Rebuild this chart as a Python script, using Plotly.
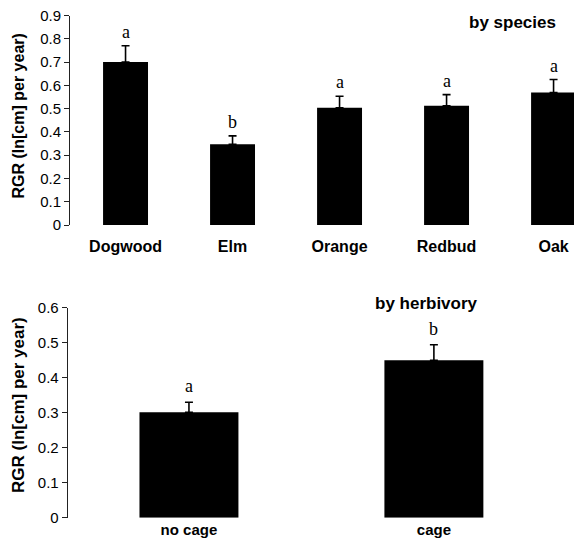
import plotly.graph_objects as go

species = ["Dogwood", "Elm", "Orange", "Redbud", "Oak"]
species_rgr = [0.70, 0.347, 0.504, 0.512, 0.569]
species_se = [0.070, 0.036, 0.049, 0.048, 0.056]
species_letters = ["a", "b", "a", "a", "a"]

herbivory = ["no cage", "cage"]
herb_rgr = [0.301, 0.450]
herb_se = [0.029, 0.044]
herb_letters = ["a", "b"]

top_ticks = [0, 0.1, 0.2, 0.3, 0.4, 0.5, 0.6, 0.7, 0.8, 0.9]
bottom_ticks = [0, 0.1, 0.2, 0.3, 0.4, 0.5, 0.6]

SANS = "Liberation Sans, Arial, sans-serif"
SERIF = "Liberation Serif, Times New Roman, serif"
W, H = 574, 539

fig = go.Figure()

err_style = dict(type="data", symmetric=False, color="black", thickness=1.6, width=4)

fig.add_trace(go.Bar(
    x=species, y=species_rgr, width=0.42, marker=dict(color="black", line=dict(width=0)),
    error_y=dict(array=species_se, arrayminus=[0] * len(species_se), **err_style),
    xaxis="x", yaxis="y", showlegend=False, hoverinfo="skip"))

fig.add_trace(go.Bar(
    x=herbivory, y=herb_rgr, width=0.404, marker=dict(color="black", line=dict(width=0)),
    error_y=dict(array=herb_se, arrayminus=[0] * len(herb_se), **err_style),
    xaxis="x2", yaxis="y2", showlegend=False, hoverinfo="skip"))

ann = []
for c, v, e, l in zip(species, species_rgr, species_se, species_letters):
    ann.append(dict(x=c, y=v + e, xref="x", yref="y", text=l, showarrow=False,
                    yanchor="middle", yshift=14,
                    font=dict(family=SERIF, size=18, color="black")))
for c, v, e, l in zip(herbivory, herb_rgr, herb_se, herb_letters):
    ann.append(dict(x=c, y=v + e, xref="x2", yref="y2", text=l, showarrow=False,
                    yanchor="middle", yshift=16,
                    font=dict(family=SERIF, size=18, color="black")))

ann.append(dict(x=512.5 / W, y=1 - 22 / H, xref="paper", yref="paper", text="<b>by species</b>",
                showarrow=False, xanchor="center", yanchor="middle",
                font=dict(family=SANS, size=17, color="black")))
ann.append(dict(x=426.4 / W, y=1 - 303 / H, xref="paper", yref="paper", text="<b>by herbivory</b>",
                showarrow=False, xanchor="center", yanchor="middle",
                font=dict(family=SANS, size=17, color="black")))
ann.append(dict(x=18.5 / W, y=1 - 116 / H, xref="paper", yref="paper",
                text="<b>RGR (ln[cm] per year)</b>", textangle=-90,
                showarrow=False, xanchor="center", yanchor="middle",
                font=dict(family=SANS, size=16, color="black")))
ann.append(dict(x=18.5 / W, y=1 - 405.5 / H, xref="paper", yref="paper",
                text="<b>RGR (ln[cm] per year)</b>", textangle=-90,
                showarrow=False, xanchor="center", yanchor="middle",
                font=dict(family=SANS, size=17, color="black")))

yax_common = dict(showline=True, linecolor="#222", linewidth=1, ticks="outside", ticklen=5,
                  tickwidth=1, tickcolor="#222", showgrid=False, zeroline=False,
                  automargin=False,
                  tickfont=dict(family=SANS, size=15, color="black"))
xax_common = dict(showline=False, ticks="", showgrid=False, zeroline=False,
                  automargin=False, type="category")

fig.update_layout(
    width=W, height=H,
    margin=dict(l=0, r=0, t=0, b=0, autoexpand=False),
    paper_bgcolor="white", plot_bgcolor="white",
    xaxis=dict(domain=[70 / W, 1], range=[-0.519, 4.191], anchor="y",
               tickfont=dict(family=SANS, size=16, color="black"), ticklabelstandoff=10,
               tickprefix="<b>", ticksuffix="</b>", **xax_common),
    yaxis=dict(domain=[1 - 225 / H, 1 - 15.5 / H], range=[0, 0.9], anchor="x",
               tickvals=top_ticks, ticktext=[f"{t:g}" for t in top_ticks], **yax_common),
    xaxis2=dict(domain=[67.7 / W, 1], range=[-0.495, 1.572], anchor="y2",
                tickfont=dict(family=SANS, size=15, color="black"), ticklabelstandoff=1,
                tickprefix="<b>", ticksuffix="</b>", **xax_common),
    yaxis2=dict(domain=[1 - 517.7 / H, 1 - 307.7 / H], range=[0, 0.6], anchor="x2",
                tickvals=bottom_ticks, ticktext=[f"{t:g}" for t in bottom_ticks], **yax_common),
    annotations=ann,
)

fig.write_html(
    "out.html",
    config={"displayModeBar": False, "staticPlot": True},
    post_script="document.body.style.margin='0';document.body.style.overflow='hidden';",
)
